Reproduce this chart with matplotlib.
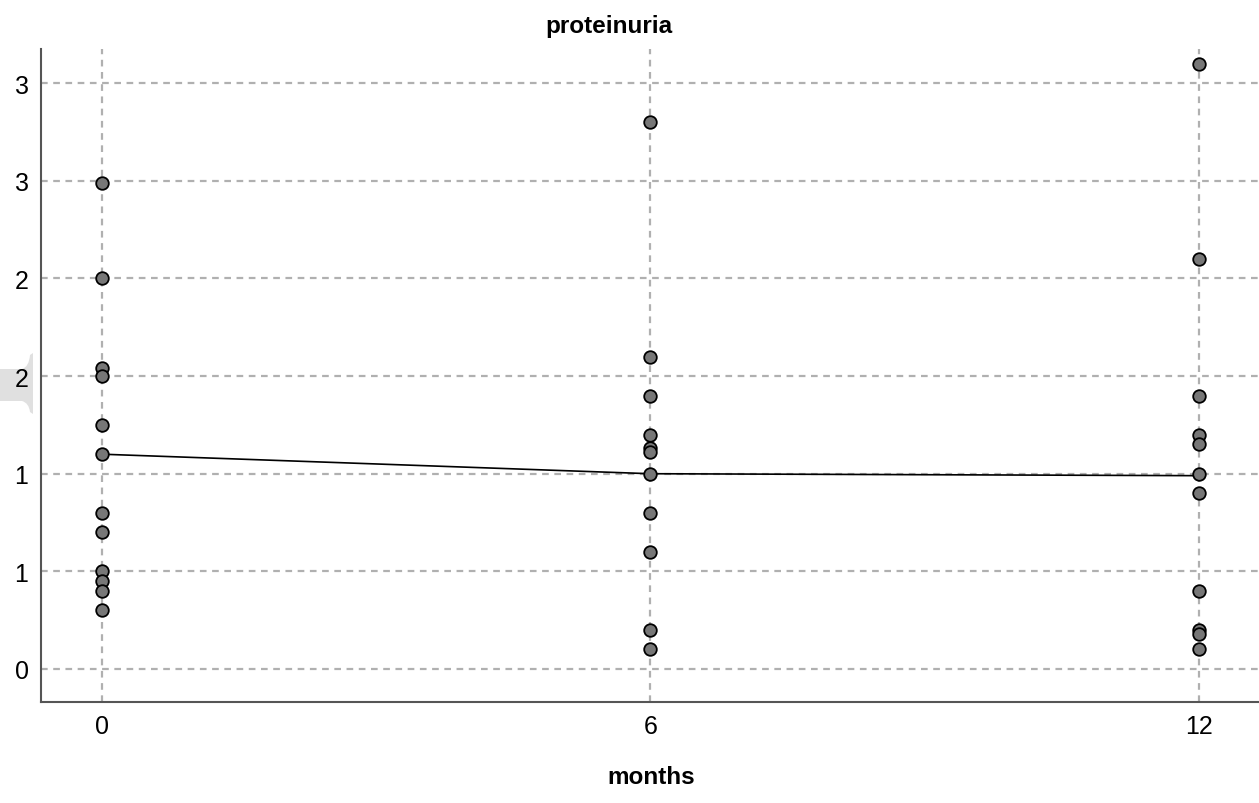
import matplotlib
matplotlib.use("Agg")
import matplotlib.pyplot as plt
from matplotlib.path import Path
from matplotlib.patches import PathPatch

plt.rcParams['font.family'] = ['Liberation Sans', 'DejaVu Sans']

# Data
months_0 = [0] * 12
values_0 = [2.49, 2.00, 1.54, 1.50, 1.25, 1.10, 0.80, 0.70, 0.50, 0.45, 0.40, 0.30]
months_6 = [6] * 11
values_6 = [2.80, 1.60, 1.40, 1.20, 1.13, 1.11, 1.00, 0.80, 0.60, 0.20, 0.10]
months_12 = [12] * 11
values_12 = [3.10, 2.10, 1.40, 1.20, 1.15, 1.00, 0.90, 0.40, 0.20, 0.18, 0.10]

line_months = [0, 6, 12]
line_values = [1.10, 1.00, 0.99]

x_ticks = [0, 6, 12]
x_ticklabels = ["0", "6", "12"]
y_ticks = [0, 0.5, 1.0, 1.5, 2.0, 2.5, 3.0]
y_ticklabels = ["0", "1", "1", "2", "2", "3", "3"]

W, H = 1259, 804
fig = plt.figure(figsize=(W / 100, H / 100), dpi=100)
ax = fig.add_axes([41 / W, 101 / H, 1 - 41 / W, (703 - 50) / H])

xs = months_0 + months_6 + months_12
ys = values_0 + values_6 + values_12

ax.plot(line_months, line_values, color='black', lw=1.2, zorder=3)
ax.scatter(xs, ys, s=82, facecolor='#777777', edgecolor='black', linewidths=1.3, zorder=4)

ax.set_xlim(-0.667, 12.66)
ax.set_ylim(-0.169, 3.175)
ax.set_xticks(x_ticks)
ax.set_xticklabels(x_ticklabels)
ax.set_yticks(y_ticks)
ax.set_yticklabels(y_ticklabels)
ax.tick_params(axis='both', length=0, labelsize=18, colors='black', pad=9)

ax.grid(True, color='#b0b0b0', linestyle=(0, (3, 2.5)), linewidth=1.6)
ax.set_axisbelow(True)
for s in ['top', 'right']:
    ax.spines[s].set_visible(False)
for s in ['left', 'bottom']:
    ax.spines[s].set_color('#555555')
    ax.spines[s].set_linewidth(1.5)

fig.text(609 / W, 1 - 26 / H, "proteinuria", ha='center', va='center', fontsize=17.5, fontweight='bold')
fig.text(651 / W, 1 - 778 / H, "months", ha='center', va='center', fontsize=17.5, fontweight='bold')

# light gray tab shape on left edge
def P(x, y):
    return (x / W, 1 - y / H)

verts = [P(0, 370), P(22, 370), P(29, 368), P(30, 356), P(33, 354),
         P(33, 415), P(30, 413), P(29, 404), P(22, 402), P(0, 402), P(0, 370)]
codes = [Path.MOVETO, Path.LINETO, Path.CURVE3, Path.CURVE3, Path.LINETO,
         Path.LINETO, Path.LINETO, Path.CURVE3, Path.CURVE3, Path.LINETO, Path.CLOSEPOLY]
patch = PathPatch(Path(verts, codes), transform=fig.transFigure, facecolor='#e0e0e0',
                  edgecolor='none', zorder=-1)
fig.patches.append(patch)

fig.savefig("out.png", dpi=100)
